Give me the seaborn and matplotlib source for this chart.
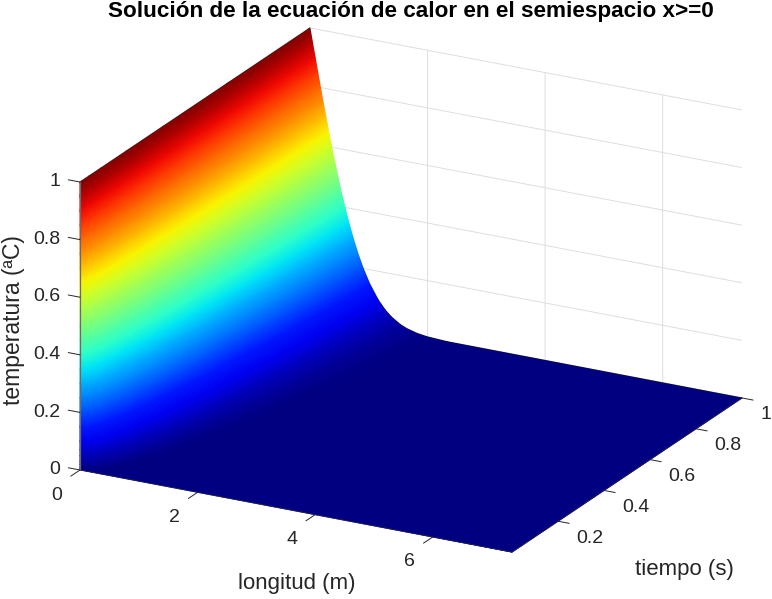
import matplotlib

matplotlib.use("Agg")

import matplotlib.pyplot as plt
import numpy as np
import seaborn as sns
from mpl_toolkits.mplot3d import proj3d

# isotherms: longitud (m) reached by each temperatura at each tiempo
temperatura = [1, .95, .9, .85, .8, .75, .7, .65, .6, .55, .5, .45, .4, .35, .3, .25, .2, .15, .1, .07, .05, .03, .02, .01, .005, .001, 0]
tiempo = [0, .01, .04, .09, .2025, .36, .64, 1]
longitud = [
    [0] * 26 + [7.35],
    [0, .004, .009, .013, .018, .023, .027, .032, .037, .042, .048, .053, .060, .066, .073, .081, .091, .102, .116, .128, .139, .153, .165, .182, .199, .233, 7.35],
    [0, .009, .018, .027, .036, .045, .055, .064, .074, .085, .095, .107, .119, .132, .147, .163, .181, .204, .233, .256, .277, .307, .329, .364, .397, .465, 7.35],
    [0, .013, .027, .040, .054, .068, .082, .096, .111, .127, .143, .160, .179, .198, .220, .244, .272, .305, .349, .384, .416, .460, .494, .546, .596, .698, 7.35],
    [0, .020, .040, .060, .081, .101, .123, .144, .167, .190, .215, .240, .268, .297, .330, .366, .408, .458, .523, .576, .624, .690, .740, .819, .893, 1.047, 7.35],
    [0, .026, .053, .080, .107, .135, .164, .193, .223, .254, .286, .320, .357, .397, .440, .488, .544, .611, .698, .769, .832, .920, .987, 1.093, 1.191, 1.396, 7.35],
    [0, .035, .071, .107, .143, .180, .218, .257, .297, .338, .382, .427, .476, .529, .586, .650, .725, .814, .930, 1.025, 1.109, 1.227, 1.316, 1.457, 1.588, 1.862, 7.35],
    [0, .044, .089, .134, .179, .225, .273, .321, .371, .423, .477, .534, .595, .661, .733, .813, .906, 1.018, 1.163, 1.281, 1.386, 1.534, 1.645, 1.821, 1.985, 2.327, 7.35],
]
xticks = [0, 2, 4, 6]
tticks = [0.2, 0.4, 0.6, 0.8, 1]
zticks = [0, 0.2, 0.4, 0.6, 0.8, 1]

sns.set_theme(style="white")
plt.rcParams["font.family"] = ["Liberation Sans", "DejaVu Sans"]
jet = plt.get_cmap("jet")
ink = "#262626"
xmax = longitud[-1][-1]

fig = plt.figure(figsize=(7.72, 5.99), dpi=100, facecolor="white")
ax = fig.add_axes([0, 0, 1, 1], projection="3d", proj_type="ortho")
ax.view_init(elev=20.9, azim=-61.97)
ax.set_box_aspect((489.5, 489.4, 308.3))
ax.set_xlim(0, xmax, view_margin=0)
ax.set_ylim(0, 1, view_margin=0)
ax.set_zlim(0, 1, view_margin=0)
ax.set_xticks([2, 4, 6])
ax.set_yticks(tticks)
ax.set_zticks(zticks)
ax.set_xticklabels([])
ax.set_yticklabels([])
ax.set_zticklabels([])
ax.tick_params(color=(0, 0, 0, 0))
for axis in (ax.xaxis, ax.yaxis, ax.zaxis):
    axis.set_pane_color((1, 1, 1, 0))
    axis.pane.set_edgecolor("none")
    axis.line.set_color((0, 0, 0, 0))
    axis._axinfo["grid"].update(color="#dedede", linewidth=0.7)


def axes_frac(x, t, z):
    px, py, _ = proj3d.proj_transform(np.ravel(x), np.ravel(t), np.ravel(z), ax.get_proj())
    return ax.transLimits.transform(np.c_[px, py])


# fit the square 3d box so the floor corners land where the reference has them
origin = axes_frac(0, 0, 0)[0]
right = axes_frac(xmax, 1, 0)[0]
side = 662 / (right[0] - origin[0])
left = 80 - side * origin[0]
bottom = (599 - 470) - side * origin[1]
ax.set_position([left / 772, bottom / 599, side / 772, side / 599])


def to_px(x, t, z):
    frac = axes_frac(x, t, z)
    return left + side * frac[:, 0], 599 - (bottom + side * frac[:, 1])


# flat overlay in pixel units, gouraud is what gives the interpolated shading
top = fig.add_axes([0, 0, 1, 1], facecolor="none")
top.set_xlim(0, 772)
top.set_ylim(599, 0)
top.axis("off")

X = np.array(longitud)
Z, T = np.meshgrid(temperatura, tiempo)
sx, sy = to_px(X, T, Z)
sx = sx.reshape(Z.shape)[::-1]
sy = sy.reshape(Z.shape)[::-1]
top.pcolormesh(sx, sy, Z[::-1], shading="gouraud", cmap=jet, vmin=0, vmax=1)

for a, b in [((0, 0, 0), (xmax, 0, 0)), ((xmax, 0, 0), (xmax, 1, 0))]:
    px, py = to_px(*zip(a, b))
    top.plot(px, py, color=ink, lw=0.7)
px, py = to_px([0, 0], [0, 0], [0, 1])
top.plot(px, py, color="#6a6a6a", lw=0.9)

for v in xticks:
    px, py = to_px([v, v], [0, -0.04], [0, 0])
    top.plot(px, py, color=ink, lw=0.7, clip_on=False)
    top.annotate(str(v), (px[0], py[0]), xytext=(-23, -25), textcoords="offset pixels",
                 ha="center", va="center", fontsize=14, color=ink)
for v in tticks:
    px, py = to_px([xmax, xmax + 0.19], [v, v], [0, 0])
    top.plot(px, py, color=ink, lw=0.7, clip_on=False)
    top.annotate(f"{v:g}", (px[0], py[0]), xytext=(18, -17), textcoords="offset pixels",
                 ha="left", va="center", fontsize=14, color=ink)
for v in zticks:
    px, py = to_px([0, -0.2], [0, 0], [v, v])
    top.plot(px, py, color=ink, lw=0.7, clip_on=False)
    top.annotate(f"{v:g}", (px[1], py[1]), xytext=(-8, -2), textcoords="offset pixels",
                 ha="right", va="center", fontsize=14, color=ink)

top.text(297, 584, "longitud (m)", ha="center", va="center", fontsize=16, color=ink)
top.text(684, 569, "tiempo (s)", ha="center", va="center", fontsize=16, color=ink)
top.text(14, 320, "temperatura (ªC)", ha="center", va="center", rotation=90, fontsize=16.5, color=ink)
top.text(410.5, 12, "Solución de la ecuación de calor en el semiespacio x>=0", ha="center", va="center",
         fontsize=16.2, fontweight="bold", color="black")

fig.savefig("out.png", dpi=100, facecolor="white")
